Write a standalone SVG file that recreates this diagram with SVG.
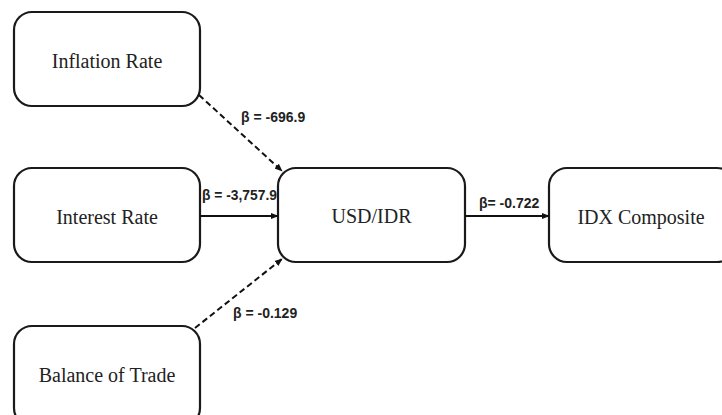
<svg xmlns="http://www.w3.org/2000/svg" width="722" height="415" viewBox="0 0 722 415">
<defs>
<style>
.box{fill:#fff;stroke:#1a1a1a;stroke-width:2.2}
.lbl{font-family:"Liberation Serif","Times New Roman",serif;font-size:20px;fill:#222;text-anchor:middle}
.beta{font-family:"Liberation Sans",Arial,sans-serif;font-size:14px;font-weight:bold;fill:#222}
.ln{stroke:#111;stroke-width:2;fill:none}
.dash{stroke-dasharray:6,3.5}
</style>
<marker id="ah" viewBox="0 0 10 10" refX="9" refY="5" markerWidth="4" markerHeight="4" orient="auto" markerUnits="strokeWidth">
<path d="M0,1 L10,5 L0,9 z" fill="#111"/>
</marker>
</defs>
<rect width="722" height="415" fill="#fff"/>
<g id="inflation">
<rect class="box" x="14" y="12" width="186" height="94" rx="18"/>
<text class="lbl" x="107" y="68">Inflation Rate</text>
</g>
<g id="interest">
<rect class="box" x="14" y="168" width="186" height="94" rx="18"/>
<text class="lbl" x="107" y="224">Interest Rate</text>
</g>
<g id="balance">
<rect class="box" x="14" y="326" width="186" height="100" rx="18"/>
<text class="lbl" x="107" y="382">Balance of Trade</text>
</g>
<g id="usdidr">
<rect class="box" x="278" y="168" width="187" height="94" rx="18"/>
<text class="lbl" x="371.5" y="223">USD/IDR</text>
</g>
<g id="idx">
<rect class="box" x="549" y="168" width="186" height="94" rx="18"/>
<text class="lbl" x="641" y="224">IDX Composite</text>
</g>
<g id="connectors">
<line class="ln dash" x1="199" y1="95" x2="282" y2="171" marker-end="url(#ah)"/>
<line class="ln" x1="200" y1="216" x2="278" y2="216" marker-end="url(#ah)"/>
<line class="ln dash" x1="195" y1="328" x2="282" y2="259" marker-end="url(#ah)"/>
<line class="ln" x1="465" y1="216" x2="549" y2="216" marker-end="url(#ah)"/>
<text class="beta" x="241" y="122">β = -696.9</text>
<text class="beta" x="202" y="200" textLength="75" lengthAdjust="spacingAndGlyphs">β = -3,757.9</text>
<text class="beta" x="233" y="318">β = -0.129</text>
<text class="beta" x="479" y="208">β= -0.722</text>
</g>
</svg>
